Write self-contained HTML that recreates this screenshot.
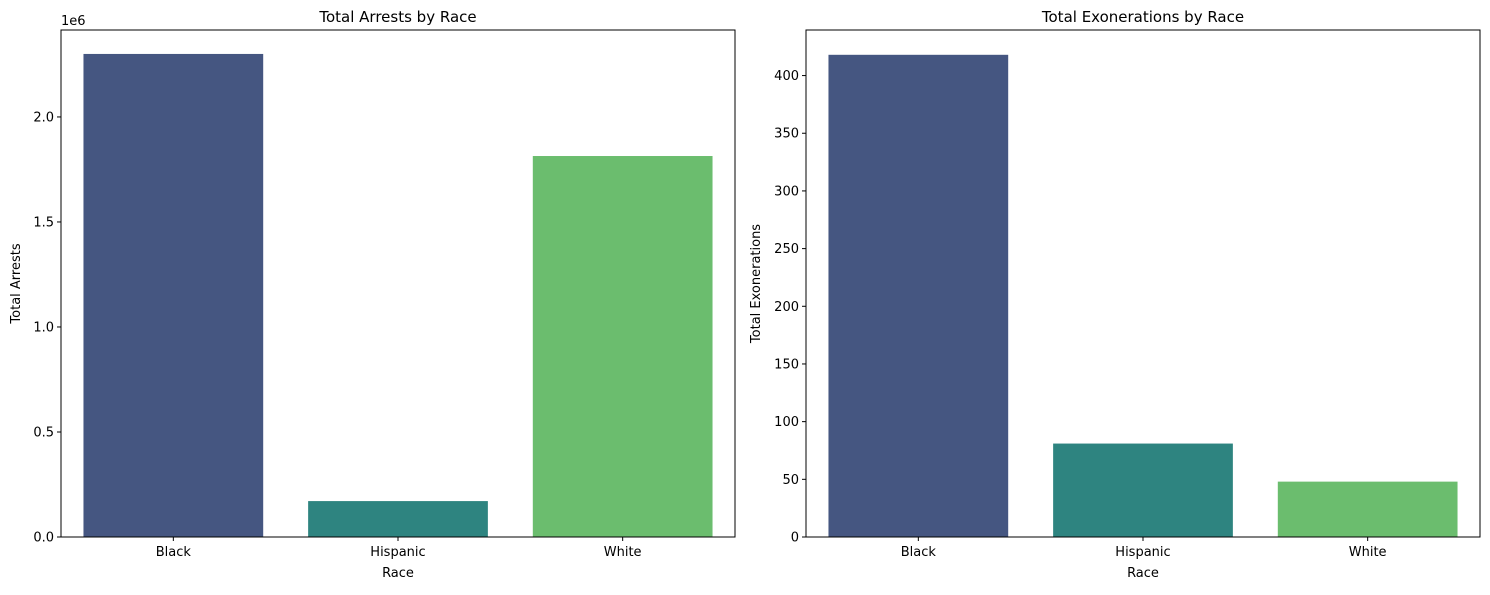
<!DOCTYPE html>
<html><head><meta charset="utf-8">
<style>
body{margin:0;background:#fff;}
svg text{font-family:"DejaVu Sans","Liberation Sans",sans-serif;fill:#000;}
</style></head>
<body>
<svg id="chart" width="1490" height="590" xmlns="http://www.w3.org/2000/svg"></svg>
<script>
const categories = ["Black", "Hispanic", "White"];
const arrests = [2300000, 171000, 1814000];
const exonerations = [418, 81, 48];
const arrestTicks = [0, 0.5, 1.0, 1.5, 2.0];
const arrestTickLabels = ["0.0", "0.5", "1.0", "1.5", "2.0"];
const exonTicks = [0, 50, 100, 150, 200, 250, 300, 350, 400];
const colors = ["#455681", "#2e8480", "#6bbd6e"];

const NS = "http://www.w3.org/2000/svg";
const svg = document.getElementById("chart");
function mk(tag, attrs, parent) {
  const e = document.createElementNS(NS, tag);
  for (const k in attrs) e.setAttribute(k, attrs[k]);
  (parent || svg).appendChild(e);
  return e;
}

function panel(opts) {
  const {x0, x1, y0, y1, ymax, values, ticks, tickLabels, title, ylabel, name} = opts;
  const g = mk("g", {});
  
  
  const yS = v => y1 - (v / ymax) * (y1 - y0);
  const bw = (x1 - x0) / categories.length;
  const xS = i => x0 + bw * (i + 0.5);
  values.forEach((v, i) => {
    const r = mk("rect", {x: xS(i) - bw * 0.4, y: yS(v), width: bw * 0.8, height: y1 - yS(v), fill: colors[i]}, g);
    
    
  });
  const frame = mk("rect", {x: x0, y: y0, width: x1 - x0, height: y1 - y0, fill: "none", stroke: "#000", "stroke-width": 1}, g);
  
  
  ticks.forEach((t, i) => {
    const y = yS(opts.tickScale ? t * opts.tickScale : t);
    mk("line", {x1: x0 - 4, x2: x0, y1: y, y2: y, stroke: "#000"}, g);
    const tx = mk("text", {x: x0 - 7, y: y + 4.5, "text-anchor": "end", "font-size": 13}, g);
    tx.textContent = tickLabels ? tickLabels[i] : String(t);
    
    
  });
  categories.forEach((c, i) => {
    mk("line", {x1: xS(i), x2: xS(i), y1: y1, y2: y1 + 4, stroke: "#000"}, g);
    const tx = mk("text", {x: xS(i), y: y1 + 19, "text-anchor": "middle", "font-size": 13}, g);
    tx.textContent = c;
    
    
  });
  const xt = mk("text", {x: (x0 + x1) / 2, y: y1 + 40, "text-anchor": "middle", "font-size": 13}, g);
  xt.textContent = "Race";
  
  
  const yt = mk("text", {x: 0, y: 0, "text-anchor": "middle", "font-size": 13, transform: `translate(${opts.ylx},${(y0 + y1) / 2}) rotate(-90)`}, g);
  yt.textContent = ylabel;
  
  
  const tt = mk("text", {x: (x0 + x1) / 2, y: y0 - 8, "text-anchor": "middle", "font-size": 15}, g);
  tt.textContent = title;
  
  
  if (opts.offset) {
    const ot = mk("text", {x: x0, y: y0 - 5, "font-size": 13}, g);
    ot.textContent = opts.offset;
    
    
  }
}

panel({x0: 61, x1: 735, y0: 30, y1: 537, ymax: 2414000, values: arrests, ticks: arrestTicks, tickScale: 1e6,
  tickLabels: arrestTickLabels, title: "Total Arrests by Race", ylabel: "Total Arrests", name: "arrests-panel", ylx: 20, offset: "1e6"});
panel({x0: 806, x1: 1480, y0: 30, y1: 537, ymax: 439.5, values: exonerations, ticks: exonTicks,
  title: "Total Exonerations by Race", ylabel: "Total Exonerations", name: "exonerations-panel", ylx: 760});
</script>
</body></html>
